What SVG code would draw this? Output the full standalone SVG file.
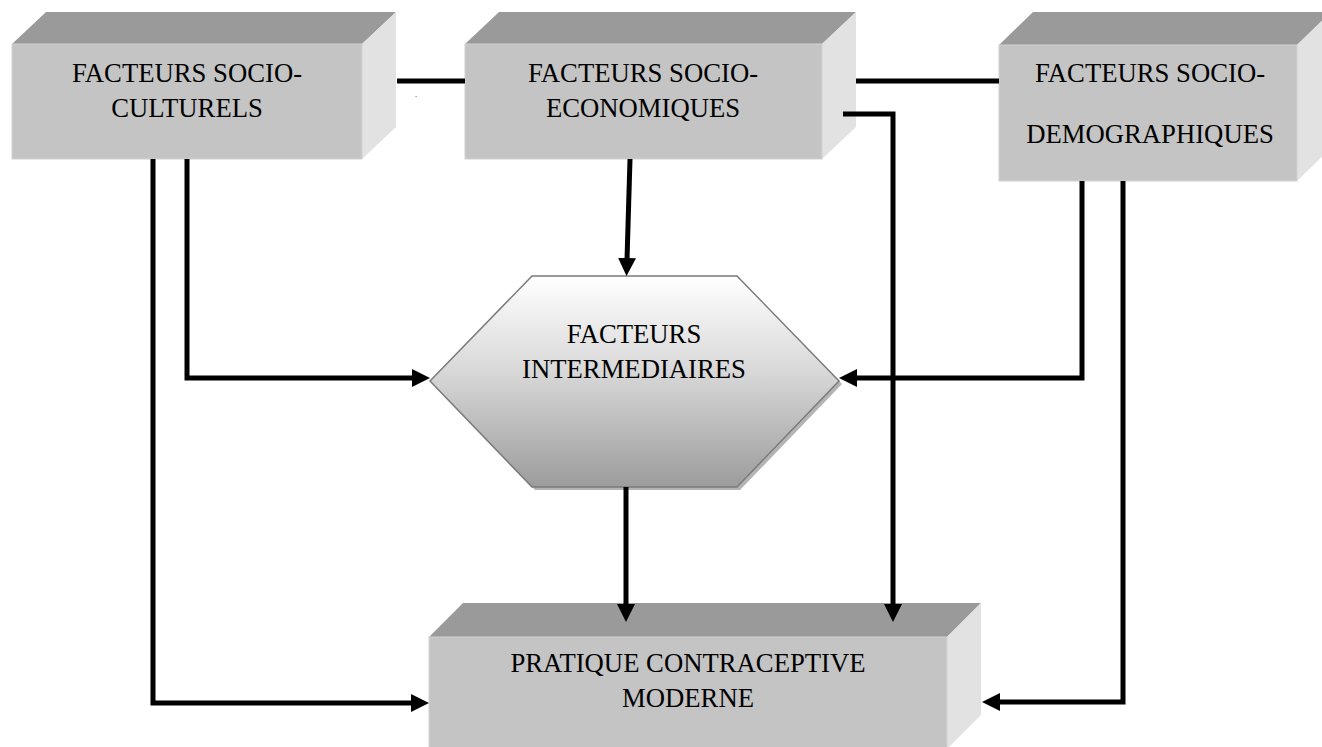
<svg xmlns="http://www.w3.org/2000/svg" width="1322" height="747" viewBox="0 0 1322 747">
  <style>
    .front { fill: #c4c4c4; stroke: #d2d2d2; stroke-width: 1; }
    .top { fill: #9a9a9a; }
    .side { fill: #e2e2e2; }
    .lbl { font-family: "Liberation Serif", "Times New Roman", serif; font-size: 26.7px; fill: #000; text-anchor: middle; }
    .conn { fill: none; stroke: #000; stroke-width: 5; stroke-linejoin: miter; stroke-linecap: butt; }
  </style>
  <defs>
    <marker id="arrow" viewBox="0 0 18 18" refX="2" refY="9" markerWidth="18" markerHeight="18" markerUnits="userSpaceOnUse" orient="auto">
      <path d="M0,0 L18,9 L0,18 z" fill="#000"/>
    </marker>
    <linearGradient id="hexgrad" x1="0" y1="0" x2="0" y2="1">
      <stop offset="0" stop-color="#ffffff"/>
      <stop offset="0.45" stop-color="#d8d8d8"/>
      <stop offset="1" stop-color="#9c9c9c"/>
    </linearGradient>
  </defs>
  <rect width="1322" height="747" fill="#fff"/>

  <g id="socio-culturels">
    <polygon class="top" points="12,44 46,12 396,12 362,44"/>
    <polygon class="side" points="362,44 396,12 396,127 362,159"/>
    <rect class="front" x="12" y="44" width="350" height="115"/>
    <text class="lbl" x="187" y="82">FACTEURS SOCIO-</text>
    <text class="lbl" x="187" y="117">CULTURELS</text>
  </g>

  <g id="socio-economiques">
    <polygon class="top" points="465,44 499,12 856,12 822,44"/>
    <polygon class="side" points="822,44 856,12 856,127 822,159"/>
    <rect class="front" x="465" y="44" width="357" height="115"/>
    <text class="lbl" x="643" y="82">FACTEURS SOCIO-</text>
    <text class="lbl" x="643" y="117">ECONOMIQUES</text>
  </g>

  <g id="socio-demographiques">
    <polygon class="top" points="999,45 1033,12 1331,12 1297,45"/>
    <polygon class="side" points="1297,45 1331,12 1331,148 1297,181"/>
    <rect class="front" x="999" y="45" width="298" height="136"/>
    <text class="lbl" x="1150" y="82">FACTEURS SOCIO-</text>
    <text class="lbl" x="1150" y="143">DEMOGRAPHIQUES</text>
  </g>

  <g id="intermediaires">
    <polygon points="535,279 740,279 842,384 740,490 535,490 433,384" fill="#b4b4b4"/>
    <polygon points="532,276 737,276 839,381 737,487 532,487 430,381" fill="url(#hexgrad)" stroke="#7a7a7a" stroke-width="1.5"/>
    <text class="lbl" x="634" y="343">FACTEURS</text>
    <text class="lbl" x="634" y="378">INTERMEDIAIRES</text>
  </g>

  <g id="pratique">
    <polygon class="top" points="429,637 463,603 981,603 947,637"/>
    <polygon class="side" points="947,637 981,603 981,715 947,749"/>
    <rect class="front" x="429" y="637" width="518" height="120"/>
    <text class="lbl" x="688" y="672">PRATIQUE CONTRACEPTIVE</text>
    <text class="lbl" x="688" y="707">MODERNE</text>
  </g>

  <text x="415" y="97" font-family="Liberation Serif, serif" font-size="8" fill="#000">.</text>

  <g id="connectors">
    <path class="conn" d="M397,81 L465,81"/>
    <path class="conn" d="M856,81 L999,81"/>
    <path class="conn" d="M843,114 L893,114 L893,606" marker-end="url(#arrow)"/>
    <path class="conn" d="M630,159 L627,260" marker-end="url(#arrow)"/>
    <path class="conn" d="M187,159 L187,378 L414,378" marker-end="url(#arrow)"/>
    <path class="conn" d="M153,159 L153,703 L413,703" marker-end="url(#arrow)"/>
    <path class="conn" d="M1082,181 L1082,378 L855,378" marker-end="url(#arrow)"/>
    <path class="conn" d="M1123,181 L1123,702 L998,702" marker-end="url(#arrow)"/>
    <path class="conn" d="M626,487 L626,606" marker-end="url(#arrow)"/>
  </g>
</svg>
